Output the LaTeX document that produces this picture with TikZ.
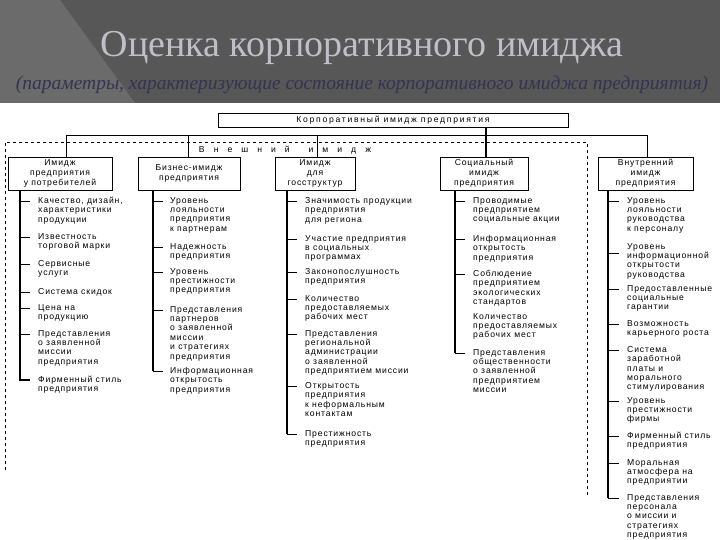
\documentclass[tikz,border=0pt]{standalone}
\usepackage{fontspec}
\setmainfont{Liberation Sans}
\newfontfamily\titlefont{Liberation Serif}
\newfontfamily\spaced[LetterSpace=10]{Liberation Sans}
\newfontfamily\wspaced[LetterSpace=20]{Liberation Sans}
\begin{document}
\begin{tikzpicture}[x=1pt,y=-1pt,
  box/.style={draw,line width=0.9pt,inner sep=1pt,align=center,font=\spaced\fontsize{8.6}{9.8}\selectfont},
  itm/.style={anchor=north west,inner sep=0pt,align=left,font=\spaced\fontsize{8.6}{9.4}\selectfont},
  ln/.style={line width=0.8pt},
  sp/.style={line width=1.1pt}]
\useasboundingbox (0,0) rectangle (720,540);
\fill[white] (0,0) rectangle (720,540);
\fill[black!66] (0,0) rectangle (720,103);
\fill[black!58] (0,0) -- (60,0) -- (135,103) -- (0,103) -- cycle;
\node[font=\titlefont\fontsize{38}{40}\selectfont,text=blue!12!black!25] (title) at (362,48) {Оценка корпоративного имиджа};
\node[font=\titlefont\itshape\fontsize{19.5}{21}\selectfont,text=blue!15!black!80] (sub) at (362,85) {(параметры, характеризующие состояние корпоративного имиджа предприятия)};

\node[draw,line width=0.6pt,minimum width=350pt,minimum height=14pt,inner sep=0pt,font=\wspaced\fontsize{8.6}{9}\selectfont] (top) at (393,120) {Корпоративный имидж предприятия};
\draw[dashed,line width=0.7pt] (5,470) -- (5,142) -- (587,142) -- (587,495);
\node[inner sep=0pt,font=\fontsize{8.6}{9}\selectfont] (ext) at (285,150) {В\hspace{1.05em}н\hspace{1.05em}е\hspace{1.05em}ш\hspace{1.05em}н\hspace{1.05em}и\hspace{1.05em}й\hspace{2.2em}и\hspace{1.05em}м\hspace{1.05em}и\hspace{1.05em}д\hspace{1.05em}ж};

\node[box,minimum width=104pt,minimum height=33pt] (b1) at (60,173.5) {Имидж\\предприятия\\у потребителей};
\node[box,minimum width=102pt,minimum height=33pt] (b2) at (189,173.5) {Бизнес-имидж\\предприятия};
\node[box,minimum width=80pt,minimum height=33pt] (b3) at (315,173.5) {Имидж\\для\\госструктур};
\node[box,minimum width=88pt,minimum height=33pt] (b4) at (484,173.5) {Социальный\\имидж\\предприятия};
\node[box,minimum width=95pt,minimum height=33pt] (b5) at (645.5,173.5) {Внутренний\\имидж\\предприятия};

\coordinate (h1) at (66,135); \coordinate (h5) at (647,135);
\draw[ln] (h1) -- (h5);
\draw[ln] (h1) -- (b1.north -| h1);
\draw[ln] (188,135) -- (b2.north -| 188,0);
\draw[ln] (317,135) -- (b3.north -| 317,0);
\draw[ln] (h5) -- (b5.north -| h5);
\draw[sp] (top.south -| 486,0) -- (b4.north -| 486,0);

% column 1
\draw[sp] (20,190) -- (20,380) -- (30,380);
\node[itm] (a1) at (38,197) {Качество, дизайн,\\характеристики\\продукции};
\node[itm] (a2) at (38,233) {Известность\\торговой марки};
\node[itm] (a3) at (38,260) {Сервисные\\услуги};
\node[itm] (a4) at (38,288) {Система скидок};
\node[itm] (a5) at (38,304) {Цена на\\продукцию};
\node[itm] (a6) at (38,330) {Представления\\о заявленной\\миссии\\предприятия};
\node[itm] (a7) at (38,376) {Фирменный стиль\\предприятия};
\foreach \y in {201,237,264,292,308,334} \draw[ln] (20,\y) -- (30,\y);

% column 2
\draw[sp] (153,190) -- (153,371);
\node[itm] (c1) at (170,197) {Уровень\\лояльности\\предприятия\\к партнерам};
\node[itm] (c2) at (170,243) {Надежность\\предприятия};
\node[itm] (c3) at (170,268) {Уровень\\престижности\\предприятия};
\node[itm] (c4) at (170,306) {Представления\\партнеров\\о заявленной\\миссии\\и стратегиях\\предприятия};
\node[itm] (c5) at (170,367) {Информационная\\открытость\\предприятия};
\foreach \y in {201,247,272,310,371} \draw[ln] (153,\y) -- (163,\y);

% column 3
\draw[sp] (287,190) -- (287,434);
\node[itm] (d1) at (305,197) {Значимость продукции\\предприятия\\для региона};
\node[itm] (d2) at (305,235) {Участие предприятия\\в социальных\\программах};
\node[itm] (d3) at (305,268) {Законопослушность\\предприятия};
\node[itm] (d4) at (305,295) {Количество\\предоставляемых\\рабочих мест};
\node[itm] (d5) at (305,330) {Представления\\региональной\\администрации\\о заявленной\\предприятием миссии};
\node[itm] (d6) at (305,382) {Открытость\\предприятия\\к неформальным\\контактам};
\node[itm] (d7) at (305,430) {Престижность\\предприятия};
\foreach \y in {201,239,272,299,334,386,434} \draw[ln] (287,\y) -- (297,\y);

% column 4
\draw[sp] (455,190) -- (455,353);
\node[itm] (e1) at (473,197) {Проводимые\\предприятием\\социальные акции};
\node[itm] (e2) at (473,235) {Информационная\\открытость\\предприятия};
\node[itm] (e3) at (473,270) {Соблюдение\\предприятием\\экологических\\стандартов};
\node[itm] (e4) at (473,313) {Количество\\предоставляемых\\рабочих мест};
\node[itm] (e5) at (473,349) {Представления\\общественности\\о заявленной\\предприятием\\миссии};
\foreach \y in {201,239,274,353} \draw[ln] (455,\y) -- (465,\y);

% column 5
\draw[sp] (608,190) -- (608,498);
\node[itm] (f1) at (627,197) {Уровень\\лояльности\\руководства\\к персоналу};
\node[itm] (f2) at (627,243) {Уровень\\информационной\\открытости\\руководства};
\node[itm] (f3) at (627,285) {Предоставленные\\социальные\\гарантии};
\node[itm] (f4) at (627,320) {Возможность\\карьерного роста};
\node[itm] (f5) at (627,346) {Система\\заработной\\платы и\\морального\\стимулирования};
\node[itm] (f6) at (627,397) {Уровень\\престижности\\фирмы};
\node[itm] (f7) at (627,432) {Фирменный стиль\\предприятия};
\node[itm] (f8) at (627,459) {Моральная\\атмосфера на\\предприятии};
\node[itm] (f9) at (627,494) {Представления\\персонала\\о миссии и\\стратегиях\\предприятия};
\foreach \y in {201,253,289,324,350,401,436,463,498} \draw[ln] (608,\y) -- (619,\y);
\end{tikzpicture}
\end{document}
